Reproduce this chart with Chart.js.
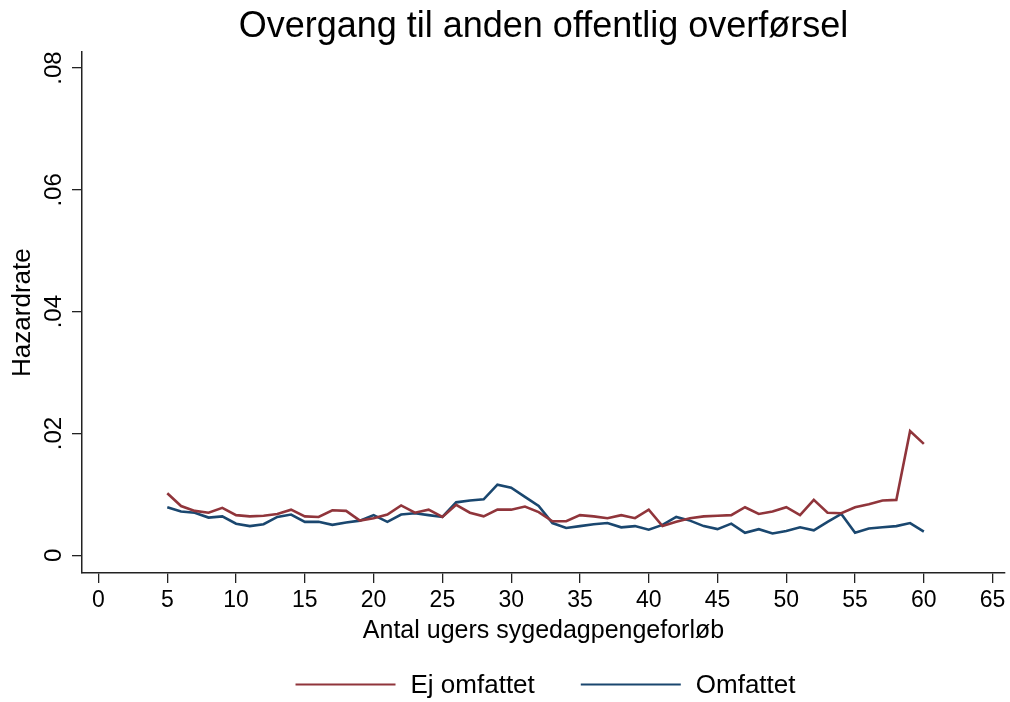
<!DOCTYPE html>
<html>
<head>
<meta charset="utf-8">
<script src="https://cdn.jsdelivr.net/npm/chart.js@4"></script>
<style>
  html, body { margin: 0; padding: 0; background: #fff; }
  #wrap { width: 1010px; height: 702px; }
</style>
</head>
<body>
<div id="wrap"><canvas id="c" width="1010" height="702"></canvas></div>
<script>
const weeks = [5,6,7,8,9,10,11,12,13,14,15,16,17,18,19,20,21,22,23,24,25,26,27,28,29,30,31,32,33,34,35,36,37,38,39,40,41,42,43,44,45,46,47,48,49,50,51,52,53,54,55,56,57,58,59,60];
const ejOmfattet = [0.0102,0.0081,0.0073,0.0070,0.0078,0.0066,0.0064,0.0065,0.0068,0.0075,0.0064,0.0063,0.0074,0.0073,0.0057,0.0061,0.0067,0.0082,0.0070,0.0075,0.0063,0.0083,0.0070,0.0064,0.0075,0.0075,0.0080,0.0071,0.0056,0.0056,0.0066,0.0064,0.0061,0.0066,0.0061,0.0075,0.0048,0.0055,0.0061,0.0064,0.0065,0.0066,0.0079,0.0068,0.0072,0.0079,0.0066,0.0091,0.0070,0.0069,0.0079,0.0084,0.0090,0.0091,0.0204,0.0183];
const omfattet = [0.0079,0.0072,0.0070,0.0062,0.0064,0.0052,0.0048,0.0051,0.0063,0.0067,0.0055,0.0055,0.0050,0.0054,0.0057,0.0066,0.0055,0.0067,0.0069,0.0066,0.0063,0.0087,0.0090,0.0092,0.0116,0.0111,0.0096,0.0081,0.0053,0.0045,0.0048,0.0051,0.0053,0.0046,0.0048,0.0042,0.0050,0.0063,0.0057,0.0048,0.0043,0.0052,0.0037,0.0043,0.0036,0.0040,0.0046,0.0041,0.0055,0.0068,0.0037,0.0044,0.0046,0.0048,0.0053,0.0039];
const xTickValues = [0,5,10,15,20,25,30,35,40,45,50,55,60,65];
const yTickValues = [0,0.02,0.04,0.06,0.08];
const yTickLabels = ['0','.02','.04','.06','.08'];
const seriesNames = ['Ej omfattet','Omfattet'];
const seriesColors = ['#90353B','#1A476F'];
const titleText = 'Overgang til anden offentlig overførsel';
const xTitle = 'Antal ugers sygedagpengeforløb';
const yTitle = 'Hazardrate';

const FONT = '"Liberation Sans", Arial, Helvetica, sans-serif';

const customText = {
  id: 'customText',
  afterDraw(chart) {
    const ctx = chart.ctx;
    const ys = chart.scales.y;
    ctx.save();
    ctx.fillStyle = '#000';
    ctx.font = '24px ' + FONT;
    ctx.textAlign = 'center';
    ctx.textBaseline = 'alphabetic';
    yTickValues.forEach((v, i) => {
      const py = ys.getPixelForValue(v);
      ctx.save();
      ctx.translate(61, py);
      ctx.rotate(-Math.PI / 2);
      ctx.fillText(yTickLabels[i], 0, 0);
      ctx.restore();
    });
    // legend
    ctx.font = '26px ' + FONT;
    const lineLen = 100, gap = 15, itemGap = 46;
    const w = seriesNames.map(n => ctx.measureText(n).width);
    const total = lineLen + gap + w[0] + itemGap + lineLen + gap + w[1];
    const cx = (chart.chartArea.left + chart.chartArea.right) / 2 + 2;
    let x = cx - total / 2;
    const ly = 684.5;
    ctx.textAlign = 'left';
    ctx.textBaseline = 'middle';
    seriesNames.forEach((n, i) => {
      ctx.strokeStyle = seriesColors[i];
      ctx.lineWidth = 2;
      ctx.beginPath();
      ctx.moveTo(x, ly);
      ctx.lineTo(x + lineLen, ly);
      ctx.stroke();
      x += lineLen + gap;
      ctx.fillStyle = '#000';
      ctx.fillText(n, x, ly + 1);
      x += w[i] + itemGap;
    });
    ctx.restore();
  }
};

new Chart(document.getElementById('c'), {
  type: 'line',
  data: {
    datasets: [
      {
        label: seriesNames[0],
        data: weeks.map((w, i) => ({x: w, y: ejOmfattet[i]})),
        borderColor: seriesColors[0],
        backgroundColor: seriesColors[0],
        borderWidth: 2.6,
        pointRadius: 0,
        tension: 0
      },
      {
        label: seriesNames[1],
        data: weeks.map((w, i) => ({x: w, y: omfattet[i]})),
        borderColor: seriesColors[1],
        backgroundColor: seriesColors[1],
        borderWidth: 2.6,
        pointRadius: 0,
        tension: 0
      }
    ]
  },
  options: {
    responsive: false,
    animation: false,
    layout: { padding: { left: 0, right: 5, top: 0, bottom: 0 } },
    plugins: {
      legend: { display: false },
      tooltip: { enabled: false },
      title: {
        display: true,
        text: titleText,
        fullSize: false,
        color: '#000',
        font: { family: FONT, size: 36, weight: 'normal' },
        padding: { top: 5, bottom: 4 }
      }
    },
    scales: {
      x: {
        type: 'linear',
        min: -1.2,
        max: 65.9,
        afterBuildTicks: s => { s.ticks = xTickValues.map(v => ({value: v})); },
        afterFit: s => { s.height = 129; },
        ticks: {
          color: '#000',
          font: { family: FONT, size: 23 },
          padding: 4,
          maxRotation: 0,
          autoSkip: false
        },
        grid: { drawOnChartArea: false, drawTicks: true, tickLength: 10, color: '#222', lineWidth: 1.3 },
        border: { display: true, color: '#222', width: 1.5 },
        title: {
          display: true,
          text: xTitle,
          color: '#000',
          font: { family: FONT, size: 25 },
          padding: { top: 0, bottom: 56 }
        }
      },
      y: {
        type: 'linear',
        min: -0.0029,
        max: 0.0826,
        afterBuildTicks: s => { s.ticks = yTickValues.map(v => ({value: v})); },
        afterFit: s => { s.width = 82; },
        ticks: { display: false },
        grid: { drawOnChartArea: false, drawTicks: true, tickLength: 10, color: '#222', lineWidth: 1.3 },
        border: { display: true, color: '#222', width: 1.5 },
        title: {
          display: true,
          text: yTitle,
          color: '#000',
          font: { family: FONT, size: 26 },
          padding: { top: 7, bottom: 0 }
        }
      }
    }
  },
  plugins: [customText]
});
</script>
</body>
</html>
